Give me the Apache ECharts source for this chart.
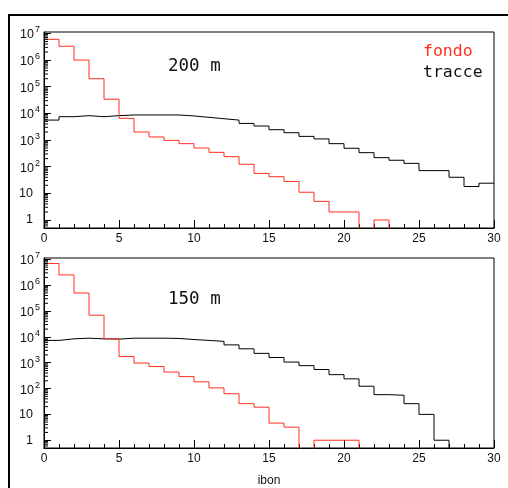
<!DOCTYPE html>
<html>
<head>
<meta charset="utf-8">
<script src="https://cdn.jsdelivr.net/npm/echarts@6/dist/echarts.min.js"></script>
<style>
  html, body { margin: 0; background: #fff; }
  #chart { width: 508px; height: 488px; }
</style>
</head>
<body>
<div id="chart"></div>
<script>
// bin contents, one value per unit bin of ibon (0..30)
const fondo200 = [6.0e6, 3.3e6, 1.0e6, 2.0e5, 3.4e4, 6500, 2000, 1300, 970, 730,
  500, 345, 237, 123, 56, 42, 28, 11, 5, 2,
  2, 0, 1, 0, 0, 0, 0, 0, 0, 0];
const tracce200 = [5600, 7500, 8200, 7500, 8200, 8700, 8700, 8700, 8700, 8000,
  7100, 6300, 5600, 4200, 3350, 2440, 1880, 1370, 1100, 730,
  490, 335, 218, 174, 133, 71, 71, 40, 18, 24];
const fondo150 = [6.9e6, 2.5e6, 5.0e5, 6.9e4, 8400, 1730, 970, 710, 435, 290,
  182, 106, 63, 26, 19, 4.6, 3.2, 0, 1, 1,
  1, 0, 0, 0, 0, 0, 0, 0, 0, 0];
const tracce150 = [7300, 8400, 8900, 8400, 8200, 8900, 8900, 8900, 8700, 7900,
  7300, 6700, 4900, 3450, 2300, 1590, 1060, 770, 545, 345,
  237, 123, 58, 55, 26, 10, 1, 0, 0, 0];

const panelLabels = ['200 m', '150 m'];
const yMin = 0.5, yMax = 1.13e7;
const minorMult = [2, 3, 4, 5, 6, 7, 8, 9];
const decades = [0.1, 1, 10, 100, 1e3, 1e4, 1e5, 1e6];

const RED = '#ff2f1f';
const FLOOR = 0.05; // empty bins fall below the axis and get clipped

// histogram -> step line points (left edge of each bin, plus closing edge)
function steps(arr) {
  const pts = arr.map((v, i) => [i, v > 0 ? v : FLOOR]);
  const last = arr[arr.length - 1];
  pts.push([arr.length, last > 0 ? last : FLOOR]);
  return pts;
}

const minorVals = [];
decades.forEach(d => minorMult.forEach(m => {
  const v = m * d;
  if (v > yMin && v < yMax) minorVals.push(v);
}));

function yLabel(v) {
  const e = Math.round(Math.log10(v));
  if (e === 0) return '{p|1}';
  if (e === 1) return '{p|10}';
  return '{b|10}{s|' + e + '}';
}

const chart = echarts.init(document.getElementById('chart'));

const grids = [
  { left: 44, top: 32, width: 450, height: 196 },
  { left: 44, top: 258, width: 450, height: 196 }
];

const xAxes = grids.map((g, i) => ({
  type: 'value', gridIndex: i, min: 0, max: 30, interval: 5,
  axisLine: { show: true, lineStyle: { color: '#000', width: 1 } },
  axisTick: { inside: true, length: 8, lineStyle: { color: '#000' } },
  minorTick: { show: true, splitNumber: 5, length: 4, lineStyle: { color: '#000' } },
  splitLine: { show: false },
  axisLabel: { margin: 5, fontSize: 12, color: '#111', fontFamily: 'Liberation Sans' },
  name: i === 1 ? 'ibon' : '',
  nameLocation: 'middle', nameGap: 27,
  nameTextStyle: { fontSize: 12, color: '#111', fontFamily: 'Liberation Sans' }
}));

const yAxes = grids.map((g, i) => ({
  type: 'log', gridIndex: i, min: yMin, max: yMax, logBase: 10,
  axisLine: { show: true, lineStyle: { color: '#000', width: 1 } },
  axisTick: { inside: true, length: 7, lineStyle: { color: '#000' } },
  splitLine: { show: false },
  axisLabel: {
    margin: 4, showMinLabel: false, showMaxLabel: false,
    formatter: yLabel,
    rich: {
      p: { fontSize: 12.5, color: '#111', fontFamily: 'Liberation Sans', padding: [0, 7, 0, 0], verticalAlign: 'bottom' },
      b: { fontSize: 12.5, color: '#111', fontFamily: 'Liberation Sans', verticalAlign: 'bottom' },
      s: { fontSize: 9, color: '#111', fontFamily: 'Liberation Sans', verticalAlign: 'bottom', padding: [0, 0, 7, 1] }
    }
  }
}));

function minorTicks(gi) {
  return {
    type: 'custom', xAxisIndex: gi, yAxisIndex: gi, silent: true, clip: false, z: 5,
    data: minorVals.map(v => [0, v]),
    renderItem: (params, api) => {
      const p = api.coord([api.value(0), api.value(1)]);
      return {
        type: 'line',
        shape: { x1: p[0], y1: p[1], x2: p[0] + 4, y2: p[1] },
        style: { stroke: '#000', lineWidth: 1 }
      };
    }
  };
}

function hist(data, gi, color) {
  return {
    type: 'line', step: 'end', xAxisIndex: gi, yAxisIndex: gi,
    data: steps(data), symbol: 'none', clip: true, silent: true,
    lineStyle: { color: color, width: 1 }
  };
}

const monoText = { fontFamily: 'DejaVu Sans Mono', fontSize: 17.5, fill: '#111', verticalAlign: 'middle' };

chart.setOption({
  animation: false,
  backgroundColor: '#fff',
  grid: grids.map(g => Object.assign({ show: true, borderColor: '#000', borderWidth: 1 }, g)),
  xAxis: xAxes,
  yAxis: yAxes,
  series: [
    hist(tracce200, 0, '#000'),
    hist(fondo200, 0, RED),
    hist(tracce150, 1, '#000'),
    hist(fondo150, 1, RED),
    minorTicks(0),
    minorTicks(1)
  ],
  graphic: [
    { type: 'polyline', shape: { points: [[9, 488], [9, 15], [508, 15]] }, style: { stroke: '#000', lineWidth: 2, fill: null } },
    { type: 'text', left: 168, top: 57, style: Object.assign({ text: panelLabels[0] }, monoText) },
    { type: 'text', left: 168, top: 290, style: Object.assign({ text: panelLabels[1] }, monoText) },
    { type: 'text', left: 423, top: 43, style: { text: 'fondo', fontFamily: 'DejaVu Sans Mono', fontSize: 16.5, fill: RED } },
    { type: 'text', left: 423, top: 64, style: { text: 'tracce', fontFamily: 'DejaVu Sans Mono', fontSize: 16.5, fill: '#111' } }
  ]
});
</script>
</body>
</html>
